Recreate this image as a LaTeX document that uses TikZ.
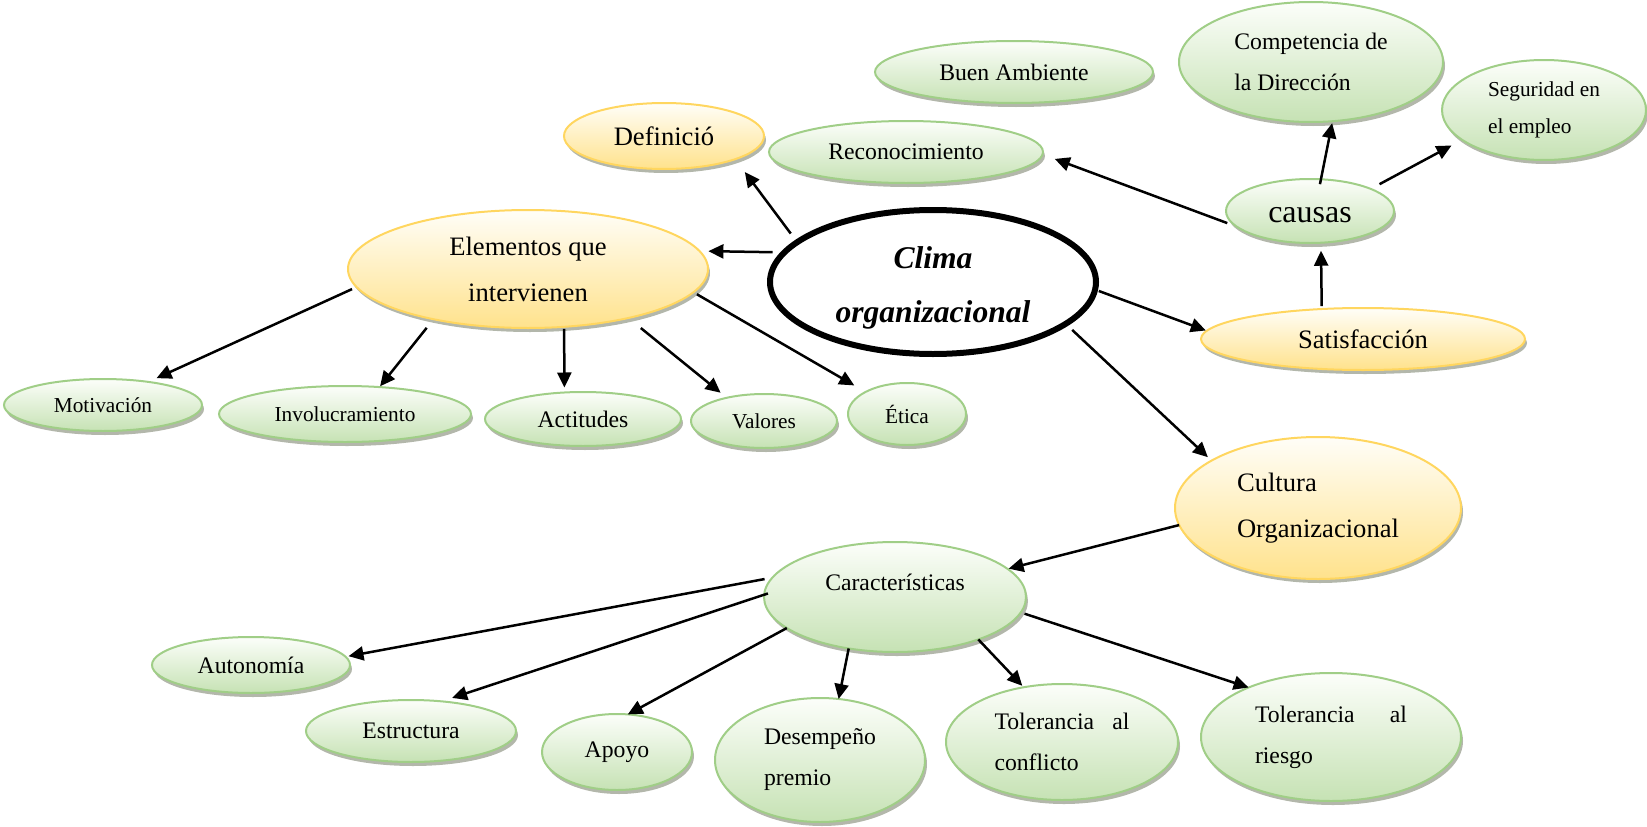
\documentclass[tikz,border=0pt]{standalone}
\usepackage{fontspec}
\setmainfont{Liberation Serif}
\usetikzlibrary{arrows.meta,shapes.geometric,shadows}
\definecolor{gborder}{RGB}{160,206,135}
\definecolor{gbot}{RGB}{198,226,180}
\definecolor{gtop}{RGB}{252,254,250}
\definecolor{yborder}{RGB}{255,214,95}
\definecolor{ybot}{RGB}{255,226,140}
\definecolor{ytop}{RGB}{255,254,248}
\definecolor{shad}{RGB}{160,165,150}
\tikzset{
  bub/.style={ellipse, inner sep=0pt, outer sep=0pt, line width=2pt,
    drop shadow={shadow xshift=2pt, shadow yshift=-4pt, fill=shad, opacity=0.8}},
  gbub/.style={bub, draw=gborder, top color=gtop, bottom color=gbot},
  ybub/.style={bub, draw=yborder, top color=ytop, bottom color=ybot},
  sz/.style 2 args={minimum width=#1pt, minimum height=#2pt},
  arr/.style={line width=2.5pt, -{Triangle[length=15pt,width=14pt]}},
  fs/.style={font=\fontsize{21.3}{37}\selectfont},
  fm/.style={font=\fontsize{23.7}{41}\selectfont},
  fl/.style={font=\fontsize{26.6}{46}\selectfont},
}
\begin{document}
\begin{tikzpicture}[x=1pt,y=-1pt]
\useasboundingbox (0,0) rectangle (1647,827);
% top right cluster
\node[gbub, sz={278}{62}, fm] (buen) at (1014,72) {Buen Ambiente};
\node[gbub, sz={264}{120}, fm, align=left] (comp) at (1311,62) {Competencia de\\la Dirección};
\node[gbub, sz={204}{100}, fs, align=left] (seg) at (1544,110) {Seguridad en\\el empleo};
\node[ybub, sz={200}{66}, fl] (def) at (664,136) {Definició};
\node[gbub, sz={274}{62}, fm] (rec) at (906,152) {Reconocimiento};
\node[gbub, sz={168}{64}, font=\fontsize{32}{36}\selectfont, text height=24pt] (causas) at (1310,211) {causas};
% centre
\node[ellipse, draw, line width=6pt, fill=white, minimum width=326pt, minimum height=144pt,
  inner sep=0pt, font=\bfseries\itshape\fontsize{31.6}{54}\selectfont, align=center] (clima) at (933,282) {\rule{0pt}{33pt}Clima\\organizacional};
\node[ybub, sz={360}{118}, fl, align=center] (elem) at (528,269) {Elementos que\\intervienen};
\node[ybub, sz={324}{62}, fl] (satis) at (1363,339) {Satisfacción};
% elementos
\node[gbub, sz={198}{52}, fs] (motiv) at (103,405) {Motivación};
\node[gbub, sz={252}{56}, fs] (invol) at (345,414) {Involucramiento};
\node[gbub, sz={196}{54}, fm] (actit) at (583,419) {Actitudes};
\node[gbub, sz={146}{54}, fs] (valor) at (764,421) {Valores};
\node[gbub, sz={118}{62}, fs] (etica) at (907,414) {Ética};
% cultura
\node[ybub, sz={286}{142}, fl, align=left] (cult) at (1318,508) {Cultura\\Organizacional};
\node[gbub, sz={262}{110}, fm, text depth=30pt] (carac) at (895,597) {Características};
\node[gbub, sz={198}{56}, fm] (auton) at (251,665) {Autonomía};
\node[gbub, sz={210}{62}, fm] (estru) at (411,731) {Estructura};
\node[gbub, sz={150}{76}, fm] (apoyo) at (617,752) {Apoyo};
\node[gbub, sz={210}{124}, fm, align=left] (desem) at (820,760) {Desempeño\\premio};
\node[gbub, sz={232}{116}, fm, align=left, text width=135pt] (tolc) at (1062,742) {Tolerancia\hspace{\fill}al\\conflicto};
\node[gbub, sz={260}{128}, fm, align=left, text width=152pt] (tolr) at (1331,737) {Tolerancia\hspace{\fill}al\\riesgo};
% connectors
\draw[arr, shorten <=8pt, shorten >=16pt] (clima.163) -- (def.-18);
\draw[arr, shorten <=8pt, shorten >=9pt] (clima.169) -- (elem.6);
\draw[arr, shorten <=5pt, shorten >=9pt] (elem.186) -- (motiv.27);
\draw[arr, shorten <=11pt, shorten >=1pt] (elem.208) -- (invol.38);
\draw[arr, shorten <=2pt, shorten >=5pt] (elem.-58) -- (actit.125);
\draw[arr, shorten <=16pt, shorten >=8pt] (elem.-26) -- (valor.148);
\draw[arr, shorten <=4pt, shorten >=13pt] (elem.-8) -- (etica.152);
\draw[arr, shorten <=10pt, shorten >=13pt] (causas.192) -- (rec.-1);
\draw[arr, shorten <=-5pt, shorten >=2pt] (causas.71) -- (comp.-70);
\draw[arr, shorten <=10pt, shorten >=12pt] (causas.20) -- (seg.200);
\draw[arr, shorten <=3pt, shorten >=8pt] (satis.144) -- (causas.-71);
\draw[arr, shorten <=1pt, shorten >=1pt] (clima.-3) -- (satis.177);
\draw[arr, shorten <=6pt, shorten >=5pt] (clima.-18) -- (cult.156);
\draw[arr, shorten >=1pt] (cult.187) -- (carac.14);
\draw[arr, shorten <=8pt, shorten >=3pt] (carac.171) -- (auton.5);
\draw[arr, shorten <=-4pt, shorten >=11pt] (carac.179) -- (estru.44);
\draw[arr] (carac.196) -- (apoyo.74);
\draw[arr] (carac.228) -- (desem.73);
\draw[arr, shorten >=2pt] (carac.-27) -- (tolc.125);
\draw[arr, shorten <=4pt] (carac.-7) -- (tolr.149);
\end{tikzpicture}
\end{document}
